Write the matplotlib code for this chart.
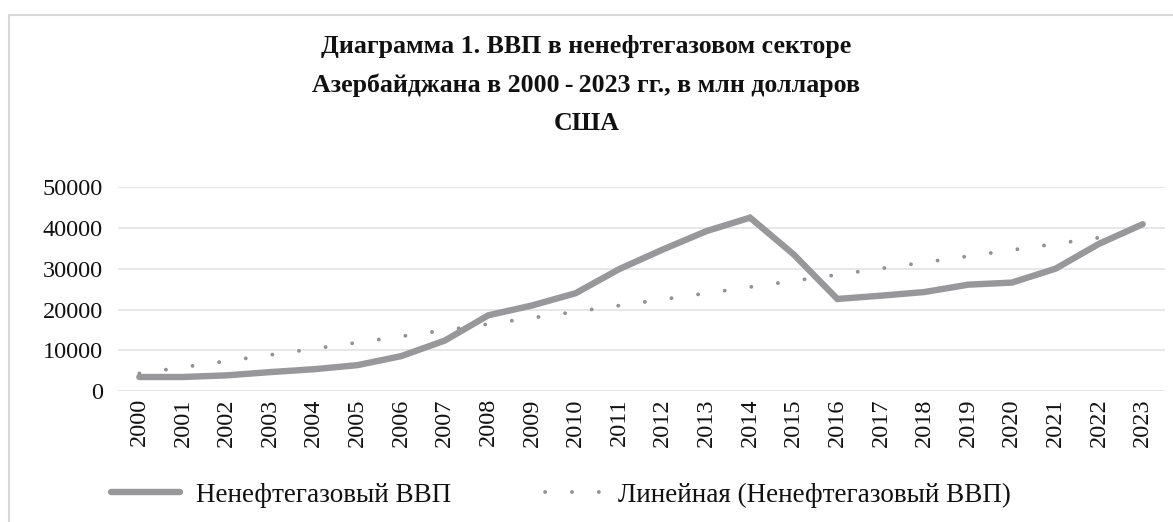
import numpy as np
import matplotlib
matplotlib.use("Agg")
import matplotlib.pyplot as plt
from matplotlib.patches import Rectangle
from matplotlib.lines import Line2D

# ---- data ----
years = [str(y) for y in range(2000, 2024)]
gdp_non_oil = [3500, 3500, 3900, 4700, 5400, 6400, 8600, 12400, 18600, 21000,
               24000, 29900, 34700, 39200, 42500, 33500, 22600, 23400, 24300,
               26100, 26600, 30000, 36100, 40900]
y_ticks = [0, 10000, 20000, 30000, 40000, 50000]
title_lines = ["Диаграмма 1. ВВП в ненефтегазовом секторе",
               "Азербайджана в 2000\u2009-\u20092023 гг., в млн долларов",
               "США"]
series_label = "Ненефтегазовый ВВП"
trend_label = "Линейная (Ненефтегазовый ВВП)"

plt.rcParams['font.family'] = ['Liberation Serif', 'DejaVu Serif']

W, H = 1173, 522
fig = plt.figure(figsize=(W / 100, H / 100), dpi=100)
fig.patch.set_facecolor('white')

# outer chart border
fig.patches.append(Rectangle((8.5 / W, -0.2), 1.3, 1.2 - 14.5 / H,
                             transform=fig.transFigure, fill=False,
                             edgecolor='#d9d9d9', linewidth=1.5))

ax_left, ax_right = 117.5, 1164.5
ax_top, ax_bottom = 187.0, 391.3
ax = fig.add_axes([ax_left / W, 1 - ax_bottom / H,
                   (ax_right - ax_left) / W, (ax_bottom - ax_top) / H])

x = np.arange(len(years))
vals = np.array(gdp_non_oil, dtype=float)

# linear trend (as computed by the spreadsheet trendline)
coef = np.polyfit(x, vals, 1)
trend = np.polyval(coef, x)

line_color = '#98989b'
trend_color = '#929296'
main_line, = ax.plot(x, vals, color=line_color, lw=4.6, solid_joinstyle='miter',
                     solid_capstyle='round', label=series_label, zorder=3)
ax.plot(x, trend, color=trend_color, lw=2.8, linestyle=(0, (0.01, 6.9)),
        dash_capstyle='round', label=trend_label, zorder=2)

ax.set_xlim(-0.5, len(years) - 0.5)
ax.set_ylim(0, 50000)
ax.set_yticks(y_ticks)
ax.set_yticklabels([str(v) for v in y_ticks])
ax.set_xticks(x)
ax.set_xticklabels(years, rotation=90)
ax.grid(axis='y', color='#e0e0e0', linewidth=1.1, zorder=0)
ax.set_axisbelow(True)
for s in ax.spines.values():
    s.set_visible(False)
ax.tick_params(axis='both', length=0, labelsize=17.5, colors='#111111')
ax.tick_params(axis='y', pad=10.5)
ax.tick_params(axis='x', pad=5)

# title
ys = [47, 85, 123]
for t, yy in zip(title_lines, ys):
    fig.text(0.5, 1 - yy / H, t, ha='center', va='center', fontsize=18.6,
             fontweight='bold', color='#111111')

trend_handle = Line2D([], [], color=trend_color, lw=2.8,
                      linestyle=(3.8, (0.01, 6.9)), dash_capstyle='round')
fs_leg = 19.5
leg = fig.legend(handles=[main_line, trend_handle],
                 labels=[series_label, trend_label],
                 loc='center left', bbox_to_anchor=(111 / W, 1 - 495 / H),
                 ncol=2, frameon=False, fontsize=fs_leg, handlelength=2.55,
                 handletextpad=0.6, columnspacing=3.0, borderaxespad=0,
                 borderpad=0)
for t in leg.get_texts():
    t.set_color('#111111')

fig.savefig('out.png', dpi=100, facecolor='white')
